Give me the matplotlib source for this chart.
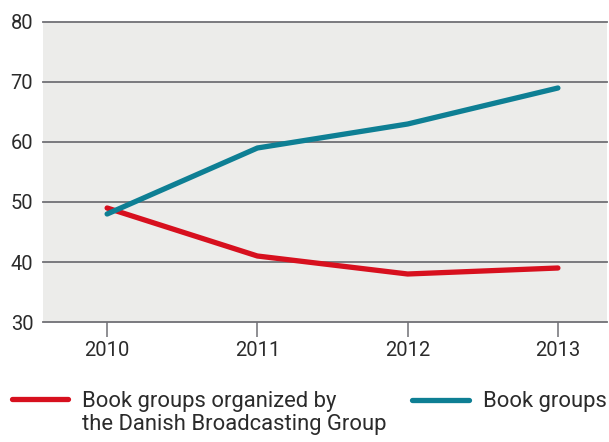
import matplotlib
matplotlib.use("Agg")
import matplotlib.pyplot as plt
from matplotlib.lines import Line2D

years = [2010, 2011, 2012, 2013]
dr_groups = [49, 41, 38, 39]
book_groups = [48, 59, 63, 69]
y_ticks = [30, 40, 50, 60, 70, 80]

red = "#d7101e"
teal = "#0e7f94"
grid_col = "#707075"
txt_col = "#2b2b2b"

plt.rcParams['font.family'] = ['Roboto', 'DejaVu Sans']

W, H = 609, 442
fig = plt.figure(figsize=(W / 100, H / 100), dpi=100)
ax = fig.add_axes([43 / W, 1 - 322 / H, (607 - 43) / W, (322 - 22) / H])
ax.set_facecolor("#ececea")

ax.plot(years, dr_groups, color=red, lw=3.8, solid_capstyle="round", zorder=3)
ax.plot(years, book_groups, color=teal, lw=3.8, solid_capstyle="round", zorder=3)

ax.set_xlim(2010 - 64 / 150, 2013 + 49 / 150)
ax.set_ylim(30, 80)
ax.set_yticks(y_ticks)
ax.set_xticks(years)
ax.set_xticklabels([str(y) for y in years])

for y in y_ticks:
    ax.axhline(y, color=grid_col, lw=1.3, zorder=2, clip_on=False)

for s in ax.spines.values():
    s.set_visible(False)

ax.tick_params(axis="y", length=0, pad=7, labelsize=14.5, labelcolor=txt_col)
ax.tick_params(axis="x", length=11, width=1.1, color=grid_col, pad=3,
               labelsize=14.5, labelcolor=txt_col)


def fp(x, y):
    return (x / W, 1 - y / H)


# legend drawn by hand
for (x0, x1, yy, c) in [(12, 68, 399, red), (412, 469, 400, teal)]:
    (a, b), (c2, d) = fp(x0, yy), fp(x1, yy)
    fig.add_artist(Line2D([a, c2], [b, d], color=c, lw=3.8,
                          solid_capstyle="round", transform=fig.transFigure))

fig.text(*fp(82, 391), "Book groups organized by\nthe Danish Broadcasting Group",
         fontsize=15.8, color=txt_col, va="top", ha="left", linespacing=1.1)
fig.text(*fp(483, 391), "Book groups", fontsize=15.8, color=txt_col,
         va="top", ha="left")

fig.savefig("out.png", dpi=100)
